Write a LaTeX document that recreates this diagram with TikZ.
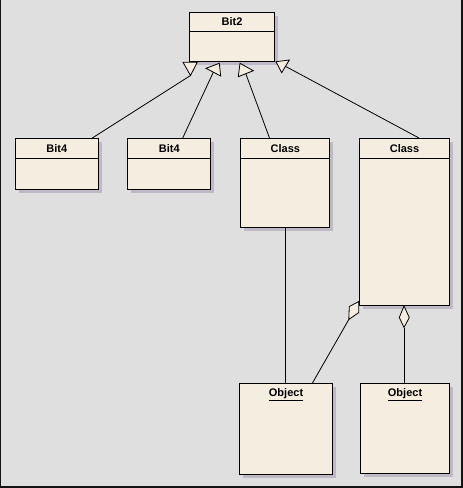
\documentclass[tikz,border=0pt]{standalone}
\usepackage{fontspec}
\setmainfont{Liberation Sans}
\usetikzlibrary{shadows,calc}
\definecolor{bgc}{RGB}{223,223,223}
\definecolor{cream}{RGB}{245,238,224}
\definecolor{shadowc}{RGB}{192,184,196}
\definecolor{framec}{RGB}{20,20,20}
\tikzset{
  umlbox/.style={draw=black, fill=cream, line width=1.1pt, anchor=north west, inner sep=0pt,
    drop shadow={shadow xshift=3.5pt, shadow yshift=-3.5pt, fill=shadowc, opacity=1}},
  umltitle/.style={font=\fontsize{11}{13}\selectfont\bfseries, inner sep=0pt},
  divider/.style={line width=1pt},
  conn/.style={line width=0.8pt},
  headshape/.style={draw=black, fill=cream, line width=0.8pt, line join=miter}
}
\begin{document}
\begin{tikzpicture}[x=1pt, y=-1pt]
\useasboundingbox (0,0) rectangle (463,488);
\fill[bgc] (0,0) rectangle (463,488);
\fill[framec] (0,0) rectangle (1,488);
\fill[framec] (461,0) rectangle (463,488);
\fill[framec] (0,486) rectangle (463,488);

% boxes
\node[umlbox, minimum width=85pt, minimum height=49pt] (bit2) at (189,12) {};
\node[umlbox, minimum width=82.5pt, minimum height=51pt] (bit4a) at (15,138) {};
\node[umlbox, minimum width=83pt, minimum height=51pt] (bit4b) at (127.3,138) {};
\node[umlbox, minimum width=89pt, minimum height=89.3pt] (class1) at (240.3,138) {};
\node[umlbox, minimum width=89.4pt, minimum height=167pt] (class2) at (359.3,138) {};
\node[umlbox, minimum width=92.4pt, minimum height=90.7pt] (obj1) at (239.3,383.3) {};
\node[umlbox, minimum width=88.4pt, minimum height=90pt] (obj2) at (360.3,383.3) {};

% dividers
\draw[divider] ([yshift=-19.5pt]bit2.north west) -- ([yshift=-19.5pt]bit2.north east);
\foreach \b in {bit4a,bit4b,class1,class2}
  \draw[divider] ([yshift=-20.3pt]\b.north west) -- ([yshift=-20.3pt]\b.north east);

% titles
\node[umltitle] (t-bit2) at ([yshift=-9.2pt]bit2.north) {Bit2};
\node[umltitle] (t-bit4a) at ([yshift=-10.4pt]bit4a.north) {Bit4};
\node[umltitle] (t-bit4b) at ([yshift=-10.4pt]bit4b.north) {Bit4};
\node[umltitle] (t-class1) at ([yshift=-10.4pt]class1.north) {Class};
\node[umltitle] (t-class2) at ([yshift=-10.4pt]class2.north) {Class};
\node[umltitle] (t-obj1) at ([yshift=-11.8pt]obj1.north) {\underline{Object}};
\node[umltitle] (t-obj2) at ([yshift=-11.8pt]obj2.north) {\underline{Object}};

% generalization heads
\coordinate (h1a) at (183,62.2);  \coordinate (h1b) at (197.3,62.2); \coordinate (h1c) at (190.5,75.5);
\coordinate (h2a) at (206,68.3);  \coordinate (h2b) at (219.3,63.3); \coordinate (h2c) at (220.7,76);
\coordinate (h3a) at (240,63.3);  \coordinate (h3b) at (253.3,70.7); \coordinate (h3c) at (238.3,76.7);
\coordinate (h4a) at (276,61.7);  \coordinate (h4b) at (289.3,60);   \coordinate (h4c) at (281.7,72.7);

\coordinate (e1) at (92.3,138);
\coordinate (e2) at (182.7,138);
\coordinate (e3) at (269.5,138);
\coordinate (e4) at (419,138);

\draw[conn] (e1) -- (h1c);
\draw[conn] (e2) -- ($(h2a)!0.5!(h2c)$);
\draw[conn] (e3) -- ($(h3b)!0.5!(h3c)$);
\draw[conn] (e4) -- ($(h4b)!0.5!(h4c)$);

\filldraw[headshape] (h1a) -- (h1b) -- (h1c) -- cycle;
\filldraw[headshape] (h2a) -- (h2b) -- (h2c) -- cycle;
\filldraw[headshape] (h3a) -- (h3b) -- (h3c) -- cycle;
\filldraw[headshape] (h4a) -- (h4b) -- (h4c) -- cycle;

% class1 -- obj1
\draw[conn] (class1.south) -- (class1.south |- obj1.north);

% aggregation class2 -- obj2
\coordinate (d2t) at (404,306);
\coordinate (d2l) at (399.3,317.5);
\coordinate (d2b) at (404,327.5);
\coordinate (d2r) at (409.3,317.5);
\draw[conn] (d2b) -- (d2b |- obj2.north);
\filldraw[headshape] (d2t) -- (d2r) -- (d2b) -- (d2l) -- cycle;

% aggregation class2 -- obj1 (partly hidden)
\coordinate (d1a) at (349.3,306.5);
\coordinate (d1b) at (358.8,301.5);
\coordinate (d1c) at (358.8,312.5);
\coordinate (d1d) at (348.8,319.5);
\coordinate (o1e) at (312.3,383.3);
\draw[conn] (d1d) -- (o1e);
\filldraw[headshape] (d1a) -- (d1b) -- (d1c) -- (d1d) -- cycle;
\end{tikzpicture}
\end{document}
